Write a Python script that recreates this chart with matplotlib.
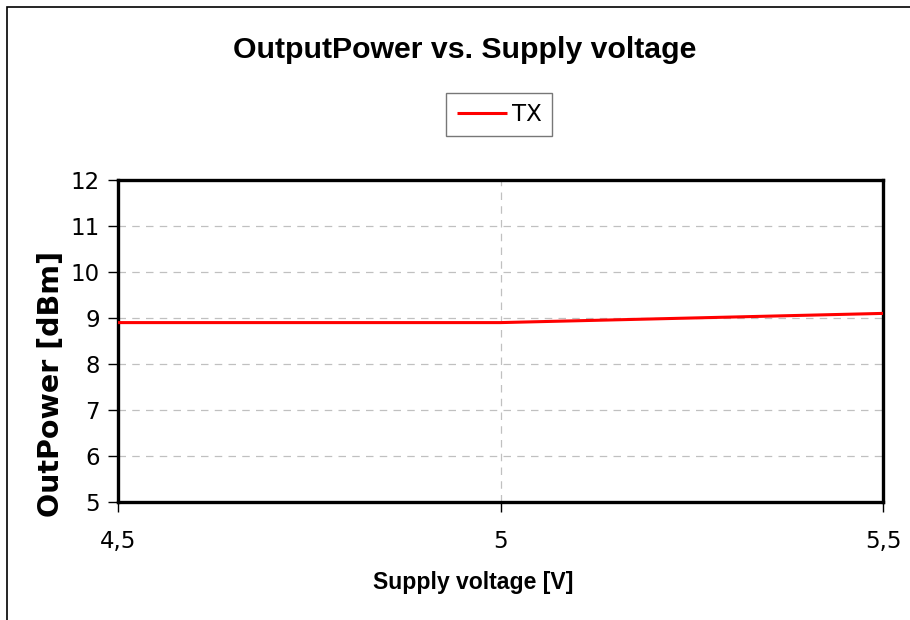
import matplotlib
matplotlib.use("Agg")
import matplotlib.pyplot as plt
from matplotlib.patches import Rectangle

# data
voltage = [4.5, 4.75, 5.0, 5.25, 5.5]
tx_power = [8.9, 8.9, 8.9, 9.0, 9.1]
x_ticks = [4.5, 5.0, 5.5]
x_labels = ["4,5", "5", "5,5"]
y_ticks = [5, 6, 7, 8, 9, 10, 11, 12]

W, H = 910, 620
fig = plt.figure(figsize=(W / 100, H / 100), dpi=100)
fig.patch.set_facecolor("white")

# outer chart frame (runs off the right/bottom edge like the reference)
fig.patches.append(Rectangle((7 / W, -0.05), 1.2, 1 - 7 / H + 0.05,
                             transform=fig.transFigure, fill=False,
                             edgecolor="black", linewidth=1.2))

ax = fig.add_axes([118 / W, 1 - 502 / H, (883 - 118) / W, (502 - 180) / H])
ax.plot(voltage, tx_power, color="#ff0000", linewidth=2.2, label="TX",
        solid_capstyle="butt", zorder=3)

ax.set_xlim(4.5, 5.5)
ax.set_ylim(5, 12)
ax.set_xticks(x_ticks)
ax.set_xticklabels(x_labels)
ax.set_yticks(y_ticks)

for s in ax.spines.values():
    s.set_linewidth(2.4)
    s.set_color("black")

ax.tick_params(axis="both", direction="out", length=7, width=1,
               labelsize=16.5, colors="black", pad=6)
ax.tick_params(axis="x", pad=13)

# grid: only inner lines
for y in [6, 7, 8, 9, 10, 11]:
    ax.axhline(y, color="#c0c0c0", linewidth=0.9, linestyle=(0, (6, 5)), zorder=1)
ax.axvline(5.0, color="#c0c0c0", linewidth=0.9, linestyle=(0, (6, 5)), zorder=1)

fig.text(465 / W, 1 - 50 / H, "OutputPower vs. Supply voltage",
         ha="center", va="center", fontsize=21.8, fontweight="bold",
         family="Liberation Sans")

fig.text(473 / W, 1 - 582 / H, "Supply voltage [V]",
         ha="center", va="center", fontsize=16.6, fontweight="bold",
         family="Liberation Sans")
fig.text(51 / W, 1 - 384 / H, "OutPower [dBm]", rotation=90,
         ha="center", va="center", fontsize=20.5, fontweight="bold",
         family="DejaVu Sans")

leg = fig.legend(loc="center", bbox_to_anchor=(499 / W, 1 - 114.5 / H),
                 fontsize=16.5, frameon=True, fancybox=False,
                 handlelength=2.2, handletextpad=0.2, borderpad=0.45,
                 borderaxespad=0)
leg.get_frame().set_edgecolor("#555555")
leg.get_frame().set_linewidth(1.0)

fig.savefig("out.png", dpi=100)
